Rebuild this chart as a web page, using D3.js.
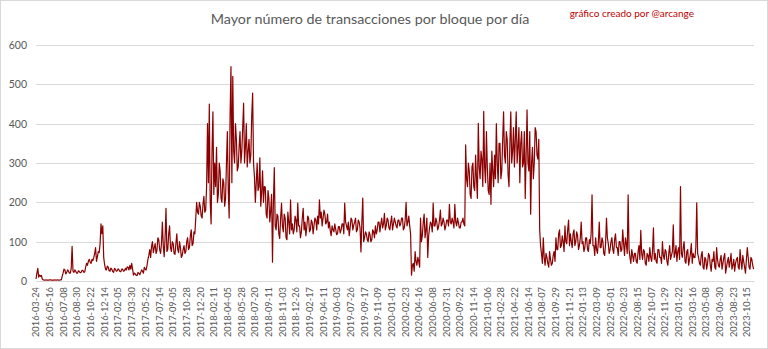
<!DOCTYPE html>
<html><head><meta charset="utf-8">
<script src="https://cdn.jsdelivr.net/npm/d3@7"></script>
<style>
html,body{margin:0;padding:0;background:#fff;}
svg{display:block;}
</style></head>
<body>
<svg id="chart" width="768" height="349"></svg>
<script>
// ---- data ----
const title = "Mayor número de transacciones por bloque por día";
const credit = "gráfico creado por @arcange";
const stepDays = 7;          // one start-of-week and one mid-week reading per week
const totalDays = 2785;      // daily categories in the original chart
const labelEvery = 53;       // one category label every 53 days
const yTicks = [0, 100, 200, 300, 400, 500, 600];
const tickLabels = ["2016-03-24","2016-05-16","2016-07-08","2016-08-30","2016-10-22","2016-12-14",
"2017-02-05","2017-03-30","2017-05-22","2017-07-14","2017-09-05","2017-10-28","2017-12-20",
"2018-02-11","2018-04-05","2018-05-28","2018-07-20","2018-09-11","2018-11-03","2018-12-26",
"2019-02-17","2019-04-11","2019-06-03","2019-07-26","2019-09-17","2019-11-09",
"2020-01-01","2020-02-23","2020-04-16","2020-06-08","2020-07-31","2020-09-22","2020-11-14",
"2021-01-06","2021-02-28","2021-04-22","2021-06-14","2021-08-07","2021-09-29","2021-11-21",
"2022-01-13","2022-03-09","2022-05-01","2022-06-23","2022-08-15","2022-10-07","2022-11-29",
"2023-01-22","2023-03-16","2023-05-08","2023-06-30","2023-08-23","2023-10-15"];

// start-of-week readings
const week2016 = [5,32,15,14, 3,2,2,2,3,2,2,2,3,2,3, 20,28,22,25,20, 88, 22,25,20,24,22,27,23,
 45,50,48,55,60, 85, 62,72, 145,140,
 42,28,35,25,30,22,30,26,28,24,30,26,28,35,40];
const week2017 = [45,15,18,14,20, 22,25,35,28,55,
 80,88,72,95,78,105,70,150,62,185,80,140,75,95,68,120,72,85,65,90,
 75,110,85,130,95,120, 200, 170,190,160,215,180];
const week2018 = [400,450,145,430, 300,340,220,280,200,250,210,380, 160, 545,520,300,
 360,290,380,330, 452, 340,290,360,320, 478, 265, 250,230,313,225, 200,239,160,210,180, 48, 288,
 130,165,108,198,125,160,105,150,206];
const week2019 = [145,130,155,198,140,125,185,150,138,160,130,148,142,155,
 165,206,175,160,170,150, 135,128,140,125,132,120,138,130,
 145,198,140,150,135,155,142,160,130,150, 74,211, 110,120,100,118,105,125,
 140,130,150,145,135,172,140,155,130,165,145,150,135,155];
const week2020 = [145,160,135,200,150,140, 15, 45,75,40,50, 160,115,170,130,60,
 135,145,198,140,150,138,180,145,150,140,155,195,145,150,195,140,148,135,150,145,
 346, 240,280,210,300,230,260, 401, 260,310,431,250,290,220,195,280];
const week2021 = [320,400,250,350,280,430,300,360,240,430,330,290,430,340,
 250,380,300,210,435,280,170,340,300,380,310, 130, 70,110,40,60,35,55,45,75,
 110,80,130,90,100,140,95,155,120,85,130,100,115,90,150];
const week2022 = [100,85,110,75,95,219,
 90,110,70,150,85,100,65,160,95,80,110,70,120,85,100,75,130,65,95, 219,
 60,80,50,70,45,90,129,55,75,40,65,85,50,135,70,45,80,60,100,55,75,40,90,65];
const week2023 = [143, 70,50,85, 240, 60,100,45,80,55,95,70,60, 199,
 60,40,75,30,55,45,65,25,50,35,85,40,55,30,60,20,50,35,70,40,25,55,35,80,30,50,20,85,35,60,40];

// mid-week readings
const mid2016 = [20,10,12,5, 2,3,2,3,2,2,3,2,2,3,12, 30,18,28,20,32, 25, 28,20,26,21,27,22,35,
 40,55,45,52,70, 50, 75,95, 120,60,
 30,38,26,33,24,32,25,31,24,30,25,32,36,28,30];
const mid2017 = [30,20,14,22,16, 28,20,30,40,65,
 60,100,85,70,110,80,95,90,110,75,120,85,100,70,95,80,100,60,80,70,
 100,80,115,90,125,160, 175, 200,165,195,175,240];
const mid2018 = [250,200,330,220, 240,200,300,210,260,190,300,230, 420, 250,330,400,
 280,340,300,390, 300, 400,330,300,420, 300, 200, 300,240,190,280, 240,170,230,150,220, 200, 140,
 170,120,160,140,170,110,175,120,130];
const mid2019 = [120,165,125,140,110,160,130,115,165,125,155,120,160,130,
 145,160,140,180,145,170, 150,115,130,145,118,138,122,145,
 120,150,130,115,160,130,150,125,155,135, 150,100, 125,105,125,100,130,110,
 120,150,125,160,145,130,160,135,150,130,160,140,155,140];
const mid2020 = [160,130,155,140,165,120, 40, 25,50,60,35, 100,150,110,160,115,
 150,125,140,160,130,155,140,160,130,155,140,150,160,135,150,160,135,150,160,140,
 260, 300,220,290,240,320,210, 290, 330,240,290,380,230,300,330,240];
const mid2021 = [260,300,350,260,360,320,380,270,350,300,390,360,300,390,
 350,290,380,320,300,380,300,260,390,320,360, 90, 45,60,70,45,75,40,65,50,
 80,120,85,115,75,100,130,90,100,120,90,125,80,110,95];
const mid2022 = [75,110,80,105,120,90,
 65,80,100,85,110,70,95,110,70,100,80,105,85,65,100,80,95,110,70, 80,
 45,65,70,50,75,55,70,80,45,70,50,60,75,55,50,80,60,45,65,80,50,70,55,75];
const mid2023 = [60, 90,75,55, 70, 85,50,75,40,70,45,60,85, 70,
 45,65,35,60,30,70,40,55,75,30,55,35,65,45,70,35,60,50,30,55,45,60,30,50,65,35,55,60,30,55,30];

const weekVals = [].concat(week2016, week2017, week2018, week2019, week2020, week2021, week2022, week2023);
const midVals = [].concat(mid2016, mid2017, mid2018, mid2019, mid2020, mid2021, mid2022, mid2023);
const series = [];
weekVals.forEach((v, i) => {
  series.push({day: i * stepDays, value: v});
  if (midVals[i] !== undefined) series.push({day: i * stepDays + stepDays / 2, value: midVals[i]});
});

// ---- drawing ----
const svg = d3.select("#chart");
const W = 768, H = 349;
const m = {left: 36, right: 14, top: 45, bottom: 68};

svg.append("rect").attr("x", 0.5).attr("y", 0.5).attr("width", W - 1).attr("height", H - 1)
  .attr("fill", "#fff").attr("stroke", "#d9d9d9");

const x = d3.scaleLinear().domain([0, totalDays - 1]).range([m.left, W - m.right]);
const y = d3.scaleLinear().domain([0, 600]).range([H - m.bottom, m.top]);

// gridlines
svg.append("g").selectAll("line").data(yTicks.filter(d => d > 0)).join("line")
  .attr("x1", m.left).attr("x2", W - m.right)
  .attr("y1", d => Math.round(y(d)) + 0.5).attr("y2", d => Math.round(y(d)) + 0.5)
  .attr("stroke", "#d9d9d9").attr("stroke-width", 1);

// y axis labels
const yAxis = d3.axisLeft(y).tickValues(yTicks).tickSize(0).tickPadding(9);
const gy = svg.append("g").attr("transform", `translate(${m.left},0)`).call(yAxis);
gy.select(".domain").remove();
gy.selectAll("text").attr("fill", "#595959").style("font-family", "Lato, 'Open Sans', sans-serif")
  .style("font-size", "10.5px");

// x axis (category labels every 53 days)
const tickDays = tickLabels.map((d, i) => i * labelEvery);
const xAxis = d3.axisBottom(x).tickValues(tickDays).tickSize(0)
  .tickFormat((d, i) => tickLabels[i]);
const gx = svg.append("g").attr("transform", `translate(0,${H - m.bottom})`).call(xAxis);
gx.select(".domain").attr("stroke", "#d9d9d9");
gx.selectAll("text")
  .attr("fill", "#595959")
  .style("font-family", "Lato, 'Open Sans', sans-serif")
  .style("font-size", "9.3px")
  .attr("transform", "rotate(-90)")
  .attr("text-anchor", "end")
  .attr("dx", "-6px")
  .attr("dy", "0.32em")
  .attr("x", 0).attr("y", 0);

// line
const line = d3.line().x(d => x(d.day)).y(d => y(d.value));
svg.append("path").datum(series)
  .attr("d", line).attr("fill", "none")
  .attr("stroke", "#8b0000").attr("stroke-width", 1.2).attr("stroke-linejoin", "round");

// title & credit
svg.append("text").attr("x", 370).attr("y", 24).attr("text-anchor", "middle")
  .attr("fill", "#595959").style("font-family", "Lato, 'Open Sans', sans-serif")
  .style("font-size", "14.3px").text(title);
svg.append("text").attr("x", 694).attr("y", 17).attr("text-anchor", "end")
  .attr("fill", "#c00000").style("font-family", "Lato, 'Open Sans', sans-serif")
  .style("font-size", "10px").text(credit);
</script>
</body></html>
